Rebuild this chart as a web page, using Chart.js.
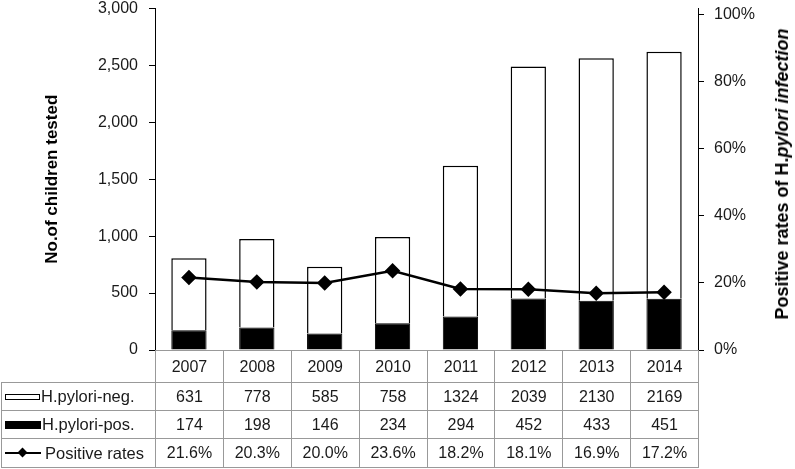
<!DOCTYPE html>
<html>
<head>
<meta charset="utf-8">
<script src="https://cdn.jsdelivr.net/npm/chart.js@4/dist/chart.umd.min.js"></script>
<style>
  body { margin: 0; background: #fff; }
  #wrap { position: relative; width: 795px; height: 469px; background: #fff; font-family: 'Liberation Sans', Arial, sans-serif; }
  #chartCanvas { position: absolute; left: 0; top: 0; }
  #dataTable { position: absolute; border-collapse: collapse; table-layout: fixed; font-size: 16px; color: #1a1a1a; }
  #dataTable td { border: 1px solid #999; text-align: center; padding: 0; white-space: nowrap; overflow: hidden; }
  #dataTable td.lab { text-align: left; padding-left: 3px; font-size: 16.5px; }
  #dataTable td.blank { border-top: none; border-left: none; }
  .key { display: inline-block; width: 36px; vertical-align: middle; margin-right: 1px; position: relative; top: -1px; }
  .key.neg { height: 4px; border: 1.5px solid #000; background: #fff; width: 33px; }
  .key.pos { height: 8px; background: #000; }
  .key.ln { height: 2px; background: #000; margin-right: 4px; }
  .key.ln::after { content: ""; position: absolute; left: 14px; top: -3px; width: 7px; height: 7px; background: #000; transform: rotate(45deg); }
  #rightTitle { position: absolute; left: 782px; top: 174px; transform: translate(-50%, -50%) rotate(-90deg);
    white-space: nowrap; font-weight: bold; font-size: 18px; color: #000; line-height: 1; }
</style>
</head>
<body>
<div id="wrap">
  <canvas id="chartCanvas" width="795" height="469"></canvas>
  <table id="dataTable"></table>
  <div id="rightTitle">Positive rates of H.<i>pylori infection</i></div>
</div>
<script>
const years = ["2007", "2008", "2009", "2010", "2011", "2012", "2013", "2014"];
const negatives = [631, 778, 585, 758, 1324, 2039, 2130, 2169];
const positives = [174, 198, 146, 234, 294, 452, 433, 451];
const rates = [21.6, 20.3, 20.0, 23.6, 18.2, 18.1, 16.9, 17.2];
const rateTicks = [0, 20, 40, 60, 80, 100];

Chart.defaults.font.family = "'Liberation Sans', Arial, sans-serif";
Chart.defaults.color = "#1a1a1a";

const canvas = document.getElementById("chartCanvas");

let chart = new Chart(canvas, {
  type: "bar",
  data: {
    labels: years,
    datasets: [{
      label: "Positive rates",
      type: "line",
      data: rates,
      yAxisID: "y1",
      borderColor: "#000",
      borderWidth: 2.5,
      pointStyle: "rectRot",
      pointRadius: 6,
      pointBackgroundColor: "#000",
      pointBorderColor: "#000",
      tension: 0,
      order: 0
    },
    {
      label: "H.pylori-pos.",
      data: positives,
      yAxisID: "y",
      stack: "kids",
      backgroundColor: "#000",
      borderColor: "#000",
      borderWidth: 1,
      categoryPercentage: 1,
      barPercentage: 0.52,
      order: 1
    },
    {
      label: "H.pylori-neg.",
      data: negatives,
      yAxisID: "y",
      stack: "kids",
      backgroundColor: "#fff",
      borderColor: "#000",
      borderWidth: 1.5,
      categoryPercentage: 1,
      barPercentage: 0.52,
      order: 1
    }]
  },
  options: {
    responsive: false,
    animation: false,
    layout: { padding: { top: 6, bottom: 119, left: 0, right: 0 } },
    plugins: {
      legend: { display: false },
      tooltip: { enabled: false }
    },
    scales: {
      x: {
        display: false,
        stacked: true
      },
      y: {
        position: "left",
        stacked: true,
        min: 0,
        max: 3000,
        ticks: {
          stepSize: 500,
          padding: 11,
          font: { size: 16 },
          callback: v => v.toLocaleString("en-US")
        },
        grid: { drawOnChartArea: false, tickLength: 6, color: "#000" },
        border: { color: "#000", width: 1 },
        title: {
          display: true,
          text: "No.of children tested",
          color: "#000",
          font: { size: 17, weight: "bold" },
          padding: { top: 42, bottom: 0 }
        },
        afterFit: s => { s.width = 155; s.paddingTop = 0; s.paddingBottom = 0; }
      },
      y1: {
        position: "right",
        min: 0,
        max: 101.8, // 100% sits a bit lower than 3,000 in the original
        ticks: {
          padding: 10,
          font: { size: 16 },
          callback: v => v + "%"
        },
        afterBuildTicks: s => { s.ticks = rateTicks.map(v => ({ value: v })); },
        grid: { drawOnChartArea: false, tickLength: 6, color: "#000" },
        border: { color: "#000", width: 1 },
        afterFit: s => { s.width = 97; s.paddingTop = 0; s.paddingBottom = 0; }
      }
    }
  }
});

// Data table under the chart, columns lined up with the x scale
const area = chart.chartArea;
const colW = (area.right - area.left) / years.length;
const tbl = document.getElementById("dataTable");
const tableLeft = 1;
tbl.style.left = tableLeft + "px";
tbl.style.top = area.bottom + "px";
tbl.style.width = (area.right - tableLeft) + "px";

let html = "<colgroup><col style='width:" + (area.left - tableLeft) + "px'>";
years.forEach(() => { html += "<col style='width:" + colW + "px'>"; });
html += "</colgroup>";

html += "<tr style='height:32px'><td class='blank'></td>" + years.map(y => "<td>" + y + "</td>").join("") + "</tr>";
html += "<tr style='height:28px'><td class='lab'><span class='key neg'></span>H.pylori-neg.</td>" + negatives.map(v => "<td>" + v + "</td>").join("") + "</tr>";
html += "<tr style='height:28px'><td class='lab'><span class='key pos'></span>H.pylori-pos.</td>" + positives.map(v => "<td>" + v + "</td>").join("") + "</tr>";
html += "<tr style='height:29px'><td class='lab'><span class='key ln'></span>Positive rates</td>" + rates.map(v => "<td>" + v.toFixed(1) + "%</td>").join("") + "</tr>";
tbl.innerHTML = html;
</script>
</body>
</html>
